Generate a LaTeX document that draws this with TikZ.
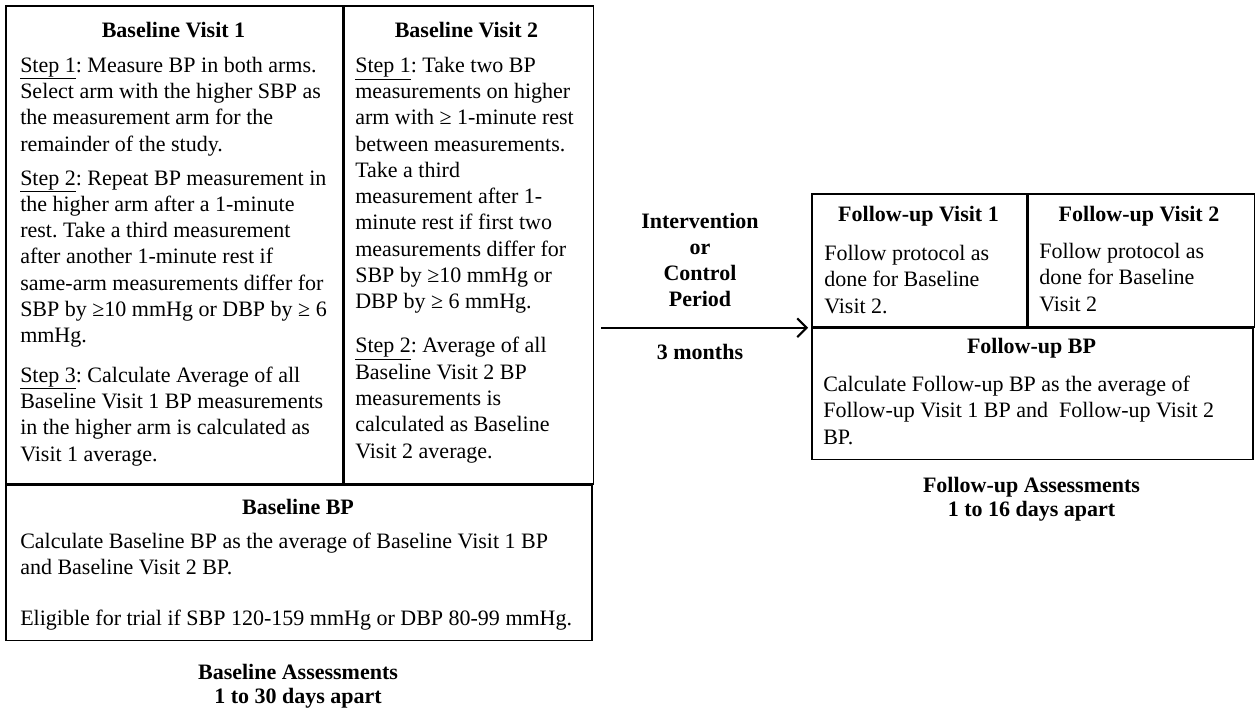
\documentclass[tikz,border=0pt]{standalone}
\usepackage{fontspec}
\setmainfont{Liberation Serif}
\usetikzlibrary{arrows.meta,positioning}
\frenchspacing

\begin{document}
\begin{tikzpicture}[
  x=0.75pt, y=-0.75pt,
  every node/.style={inner sep=0pt, font=\fontsize{16.5}{19.7}\selectfont},
  cell/.style={draw, line width=1.3pt, anchor=north west},
  head/.style={anchor=base, font=\fontsize{16.5}{19.7}\selectfont\bfseries},
  body/.style={anchor=base west, align=left},
  caption/.style={anchor=base, align=center, font=\fontsize{16.5}{18}\selectfont\bfseries},
  period/.style={-{Straight Barb[length=7pt,width=14pt]}, line width=1.5pt}
]
\useasboundingbox (0,0) rectangle (1256,711);

% baseline frames
\node[cell, minimum width=252.75pt, minimum height=358.5pt] (bv1) at (5,5) {};
\node[cell, minimum width=186.75pt, minimum height=358.5pt] (bv2) at (bv1.north east) {};
\node[cell, minimum width=439.5pt, minimum height=116.25pt] (bbp) at (bv1.south west) {};

% follow-up frames
\node[cell, minimum width=161.25pt, minimum height=99.75pt] (fv1) at (811,193) {};
\node[cell, minimum width=169.5pt, minimum height=99.75pt] (fv2) at (fv1.north east) {};
\node[cell, minimum width=330.75pt, minimum height=98.25pt] (fbp) at (fv1.south west) {};

% baseline visit 1 (body nodes sit on their last line)
\node[head] (bv1head) at (173.5,37) {Baseline Visit 1};
\node[body] (bv1text) at (20,461)
  {\underline{Step 1}: Measure BP in both arms.\\
   Select arm with the higher SBP as\\
   the measurement arm for the\\
   remainder of the study.\\[5.8pt]
   \underline{Step 2}: Repeat BP measurement in\\
   the higher arm after a 1-minute\\
   rest. Take a third measurement\\
   after another 1-minute rest if\\
   same-arm measurements differ for\\
   SBP by ≥10 mmHg or DBP by ≥ 6\\
   mmHg.\\[10pt]
   \underline{Step 3}: Calculate Average of all\\
   Baseline Visit 1 BP measurements\\
   in the higher arm is calculated as\\
   Visit 1 average.};

% baseline visit 2
\node[head] (bv2head) at (466.5,37) {Baseline Visit 2};
\node[body] (bv2text) at (355,458)
  {\underline{Step 1}: Take two BP\\
   measurements on higher\\
   arm with ≥ 1-minute rest\\
   between measurements.\\
   Take a third\\
   measurement after 1-\\
   minute rest if first two\\
   measurements differ for\\
   SBP by ≥10 mmHg or\\
   DBP by ≥ 6 mmHg.\\[13.5pt]
   \underline{Step 2}: Average of all\\
   Baseline Visit 2 BP\\
   measurements is\\
   calculated as Baseline\\
   Visit 2 average.};

% baseline BP
\node[head] (bbphead) at (298,514) {Baseline BP};
\node[body] (bbptext) at (20,625)
  {Calculate Baseline BP as the average of Baseline Visit 1 BP\\
   and Baseline Visit 2 BP.\\[18.3pt]
   Eligible for trial if SBP 120-159 mmHg or DBP 80-99 mmHg.};
\node[caption] (bcap) at (298,703) {Baseline Assessments\\1 to 30 days apart};

% period between
\draw[period, shorten <=5.25pt, shorten >=2.25pt] (bv2.east |- fbp.north west) -- (fbp.north west);
\node[caption, font=\fontsize{16.5}{19.5}\selectfont\bfseries] (plabel) at (700,306)
  {Intervention\\or\\Control\\Period};
\node[head] (months) at (700,359) {3 months};

% follow-up visits
\node[head] (fv1head) at (918.5,221) {Follow-up Visit 1};
\node[body] (fv1text) at (824,313)
  {Follow protocol as\\done for Baseline\\Visit 2.};
\node[head] (fv2head) at (1139,221) {Follow-up Visit 2};
\node[body] (fv2text) at (1039,311)
  {Follow protocol as\\done for Baseline\\Visit 2};

% follow-up BP
\node[head] (fbphead) at (1031.5,353) {Follow-up BP};
\node[body] (fbptext) at (823,444)
  {Calculate Follow-up BP as the average of\\
   Follow-up Visit 1 BP and\ \ Follow-up Visit 2\\
   BP.};
\node[caption] (fcap) at (1031.5,516) {Follow-up Assessments\\1 to 16 days apart};

\end{tikzpicture}
\end{document}
